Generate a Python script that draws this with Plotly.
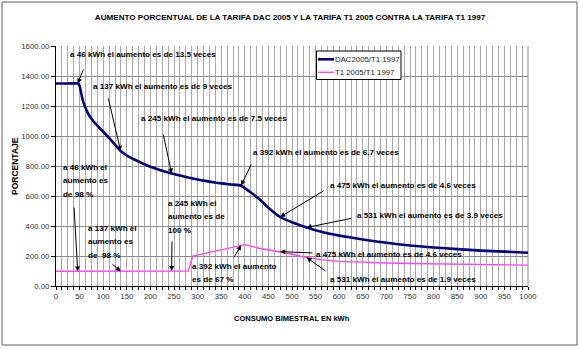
import numpy as np
import plotly.graph_objects as go

# Consumo bimestral (kWh) y aumento porcentual respecto a la tarifa T1 1997
dac_kwh = [0, 20, 46, 50, 53, 57, 62, 68, 80, 95, 110, 125, 137, 150, 165, 200, 245, 280,
           310, 340, 370, 392, 410, 430, 450, 475, 500, 531, 560, 600, 650, 700, 750,
           800, 850, 900, 950, 1000]
dac_pct = [1350, 1350, 1350, 1335, 1290, 1235, 1192, 1150, 1095, 1045, 995, 942, 900, 870,
           845, 795, 750, 724, 704, 688, 677, 670, 630, 582, 522, 460, 425, 390, 363, 336,
           310, 288, 270, 257, 246, 236, 229, 222]

t1_kwh = [0, 46, 137, 180, 182, 245, 280, 290, 392, 400, 430, 475, 500, 531, 560, 600,
          650, 700, 750, 800, 850, 900, 950, 1000]
t1_pct = [98, 98, 98, 98, 100, 100, 100, 200, 272, 276, 252, 229, 212, 190, 176, 164,
          157, 153, 150, 147, 145, 143, 141, 139]

x_ticks = list(range(0, 1001, 50))
y_ticks = list(range(0, 1601, 200))

# Notas sobre cada curva (una entrada por renglón)
dac_notes_kwh = [46, 137, 245, 392, 475, 531]
dac_notes_text = [
    ["a 46 kWh el aumento es de 13.5 veces"],
    ["a 137 kWh el aumento es de 9 veces"],
    ["a 245 kWh el aumento es de 7.5 veces"],
    ["a 392 kWh el aumento es de 6.7 veces"],
    ["a 475 kWh el aumento es de 4.6 veces"],
    ["a 531 kWh el aumento es de 3.9 veces"],
]
t1_notes_kwh = [46, 137, 245, 392, 475, 531]
t1_notes_text = [
    ["a 46 kWh el", "aumento es", "de 98 %"],
    ["a 137 kWh el", "aumento es", "de  98 %"],
    ["a 245 kWh el", "aumento es de", "100 %"],
    ["a 392 kWh el aumento", "es de 67 %"],
    ["a 475 kWh el aumento es de 4.6 veces"],
    ["a 531 kWh el aumento es de 1.9 veces"],
]

# Layout geometry (pixels)
FIG_W, FIG_H = 580, 349
L, T, R, B = 56, 46, 528, 286
PW, PH = R - L, B - T
X_MAX, Y_MAX = 1000, 1600
LINE_GAP = 13.8

FONT = "Liberation Sans, Arial, sans-serif"
NAVY = "#000080"
PINK = "#ff44ff"


def px_x(p):
    return (p - L) / PW


def px_y(p):
    return (B - p) / PH


def to_px(kwh, val):
    return L + PW * kwh / X_MAX, B - PH * val / Y_MAX


fig = go.Figure()
fig.add_trace(go.Scatter(x=dac_kwh, y=dac_pct, mode="lines", name="DAC2005/T1 1997",
                         line=dict(color=NAVY, width=2.6, shape="spline", smoothing=0.3),
                         showlegend=False))
fig.add_trace(go.Scatter(x=t1_kwh, y=t1_pct, mode="lines", name="T1 2005/T1 1997",
                         line=dict(color=PINK, width=1.4), showlegend=False))

annotations = []

# text: (left px, first-line centre px); arrow tails (px)
dac_text_pos = [(69, 55), (92, 87), (140, 118), (252, 152), (329, 186), (356, 216)]
dac_tails = [(84, 68), (108, 97), (163, 133), (252, 163), (325, 190), (353, 218)]
t1_text_pos = [(62, 167), (87, 228), (167, 203), (191, 266), (315, 254), (329, 279)]
t1_tails = [(74, 206), (111, 263), (172, 240), (233, 259), (314, 253), (327, 272)]

for kwhs, texts, pos, tails, xs, ys in [
    (dac_notes_kwh, dac_notes_text, dac_text_pos, dac_tails, dac_kwh, dac_pct),
    (t1_notes_kwh, t1_notes_text, t1_text_pos, t1_tails, t1_kwh, t1_pct),
]:
    for k, lines, (tx, ty), (ax, ay) in zip(kwhs, texts, pos, tails):
        val = float(np.interp(k, xs, ys))
        tip_x, tip_y = to_px(k, val)
        annotations.append(dict(
            x=k, y=val, xref="x", yref="y", text="", showarrow=True,
            ax=ax - tip_x, ay=ay - tip_y, axref="pixel", ayref="pixel",
            arrowhead=2, arrowsize=1, arrowwidth=1, arrowcolor="black", standoff=0,
        ))
        for i, line in enumerate(lines):
            annotations.append(dict(
                x=px_x(tx), y=px_y(ty + i * LINE_GAP), xref="paper", yref="paper",
                xanchor="left", yanchor="middle", align="left", showarrow=False,
                text="<b>" + line + "</b>", borderpad=0,
                font=dict(family=FONT, size=8.1, color="black"),
            ))

# legend drawn as a small boxed key
legend_items = [("DAC2005/T1 1997", NAVY, 2.6, 59.3), ("T1 2005/T1 1997", PINK, 1.4, 72.3)]
shapes = [
    dict(type="rect", xref="paper", yref="paper", x0=px_x(316.5), x1=px_x(401),
         y0=px_y(51), y1=px_y(79.5), line=dict(color="black", width=1), fillcolor="white",
         layer="above"),
]
for name, color, width, yy in legend_items:
    shapes.append(dict(type="line", xref="paper", yref="paper", x0=px_x(318), x1=px_x(334),
                       y0=px_y(yy), y1=px_y(yy), line=dict(color=color, width=width),
                       layer="above"))
    annotations.append(dict(x=px_x(333), y=px_y(yy), xref="paper", yref="paper",
                            xanchor="left", yanchor="middle", showarrow=False, text=name,
                            font=dict(family=FONT, size=7.8, color="#222")))

# outer chart frame
shapes.append(dict(type="rect", xref="paper", yref="paper", x0=px_x(2), x1=px_x(577),
                   y0=px_y(2), y1=px_y(345), line=dict(color="#606060", width=1),
                   layer="below"))

# axis titles
annotations.append(dict(x=px_x(292), y=px_y(318), xref="paper", yref="paper",
                        xanchor="center", yanchor="middle", showarrow=False,
                        text="<b>CONSUMO BIMESTRAL EN kWh</b>",
                        font=dict(family=FONT, size=7.5, color="black")))
annotations.append(dict(x=px_x(15), y=px_y(166), xref="paper", yref="paper",
                        xanchor="center", yanchor="middle", showarrow=False, textangle=-90,
                        text="<b>PORCENTAJE</b>",
                        font=dict(family=FONT, size=8.5, color="black")))

fig.update_layout(
    width=FIG_W, height=FIG_H,
    margin=dict(l=L, r=FIG_W - R, t=T, b=FIG_H - B),
    paper_bgcolor="white", plot_bgcolor="white",
    title=dict(text="<b>AUMENTO PORCENTUAL DE LA TARIFA DAC 2005 Y LA TARIFA T1 2005 CONTRA LA TARIFA T1 1997</b>",
               x=0.5, xref="container", xanchor="center",
               y=1 - 17 / FIG_H, yref="container", yanchor="middle",
               font=dict(family=FONT, size=8.1, color="black")),
    annotations=annotations,
    shapes=shapes,
    showlegend=False,
)

fig.update_xaxes(
    range=[0, X_MAX], tickvals=x_ticks, ticktext=[str(v) for v in x_ticks],
    showgrid=True, gridcolor="#a8a8a8", gridwidth=1,
    minor=dict(dtick=12.5, tick0=0, showgrid=True, gridcolor="#a8a8a8", gridwidth=1,
               ticks="outside", ticklen=3, tickcolor="black"),
    ticks="outside", ticklen=3, tickcolor="black",
    showline=True, linecolor="black", linewidth=1, mirror=False,
    zeroline=False, tickfont=dict(family=FONT, size=7.8, color="#333"),
)
fig.update_yaxes(
    range=[0, Y_MAX], tickvals=y_ticks, ticktext=[f"{v:.2f}" for v in y_ticks],
    showgrid=True, gridcolor="#8c8c8c", gridwidth=1,
    ticks="outside", ticklen=4, tickcolor="black",
    showline=True, linecolor="black", linewidth=1,
    zeroline=False, tickfont=dict(family=FONT, size=7.8, color="#333"),
)
# right edge of the plot area
fig.add_shape(type="line", xref="paper", yref="paper", x0=1, x1=1, y0=0, y1=1,
              line=dict(color="#8c8c8c", width=1), layer="below")

fig.write_html("out.html")
